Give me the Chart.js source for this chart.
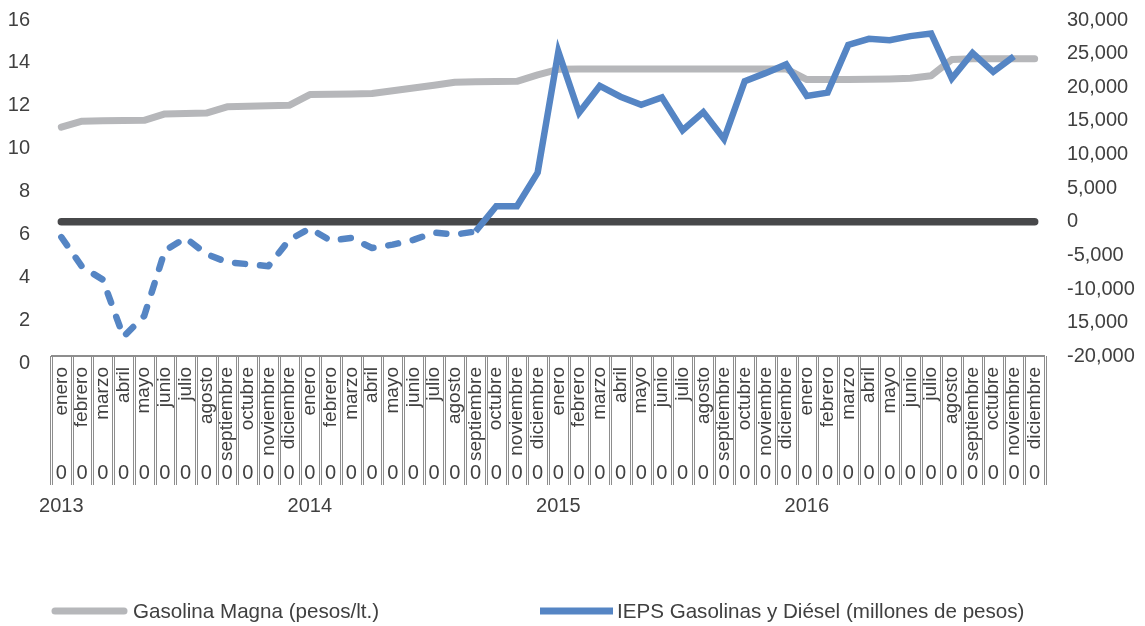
<!DOCTYPE html>
<html lang="es">
<head>
<meta charset="utf-8">
<title>Gasolina Magna e IEPS, 2013-2016</title>
<script src="https://cdn.jsdelivr.net/npm/chart.js@4/dist/chart.umd.min.js"></script>
<style>
  html, body { margin: 0; padding: 0; background: #ffffff; }
  #wrap { position: relative; width: 1145px; height: 626px; }
</style>
</head>
<body>
<div id="wrap"><canvas id="chart"></canvas></div>
<script>
// ---- data ----
const years = ['2013', '2014', '2015', '2016'];
const monthNames = ['enero', 'febrero', 'marzo', 'abril', 'mayo', 'junio', 'julio',
  'agosto', 'septiembre', 'octubre', 'noviembre', 'diciembre'];

// Gasolina Magna, pesos por litro (eje izquierdo)
const magna = [
  11.00, 11.28, 11.30, 11.31, 11.32, 11.62, 11.64, 11.66, 11.95, 11.98, 12.00, 12.02,
  12.52, 12.54, 12.55, 12.57, 12.70, 12.83, 12.96, 13.10, 13.12, 13.13, 13.14, 13.44,
  13.70, 13.71, 13.71, 13.71, 13.71, 13.71, 13.72, 13.72, 13.72, 13.72, 13.72, 13.72,
  13.22, 13.22, 13.23, 13.24, 13.25, 13.28, 13.40, 14.16, 14.19, 14.19, 14.19, 14.19
];

// IEPS gasolinas y diésel, millones de pesos (eje derecho)
const ieps = [
  -2300, -6700, -8600, -17100, -14000, -4300, -2400, -4800, -6000, -6300, -6600, -2700,
  -1000, -2800, -2400, -3900, -3400, -2700, -1600, -1900, -1450, 2300, 2300, 7300,
  25300, 16200, 20200, 18600, 17400, 18500, 13600, 16300, 12300, 20900, 22100, 23400,
  18700, 19200, 26300, 27200, 27000, 27600, 28000, 21300, 25100, 22300, 24600, null
];

// linea de referencia en cero (eje derecho)
const baseline = [
  0, 0, 0, 0, 0, 0, 0, 0, 0, 0, 0, 0,
  0, 0, 0, 0, 0, 0, 0, 0, 0, 0, 0, 0,
  0, 0, 0, 0, 0, 0, 0, 0, 0, 0, 0, 0,
  0, 0, 0, 0, 0, 0, 0, 0, 0, 0, 0, 0
];

// fila de valores de la tabla bajo el eje
const tableRow = [
  '0', '0', '0', '0', '0', '0', '0', '0', '0', '0', '0', '0',
  '0', '0', '0', '0', '0', '0', '0', '0', '0', '0', '0', '0',
  '0', '0', '0', '0', '0', '0', '0', '0', '0', '0', '0', '0',
  '0', '0', '0', '0', '0', '0', '0', '0', '0', '0', '0', '0'
];

const leftMin = 0, leftMax = 16, leftStep = 2;
const rightTickValues = [-20000, -15000, -10000, -5000, 0, 5000, 10000, 15000, 20000, 25000, 30000];
const rightTickLabels = ['-20,000', '15,000', '-10,000', '-5,000', '0', '5,000', '10,000',
  '15,000', '20,000', '25,000', '30,000'];

const seriesNames = ['IEPS Gasolinas y Diésel (millones de pesos)', 'Gasolina Magna (pesos/lt.)'];

// ---- derived labels ----
const categories = years.flatMap(() => monthNames);
const yearRow = years.flatMap(y => [y, '', '', '', '', '', '', '', '', '', '', '']);

// ---- styling ----
const TEXT = '#404040';
const FONT = "'Liberation Sans', Arial, Helvetica, sans-serif";
const BLUE = '#5585c4';
const GRAY = '#b6b7ba';
const DARK = '#47484a';
const TABLE = '#8d8d8d';

Chart.defaults.font.family = FONT;
Chart.defaults.color = TEXT;

// vertical axes: fixed width, no extra label padding above/below the plot
const fixVertical = width => s => {
  s.width = width;
  s.paddingTop = 0;
  s.paddingBottom = 0;
};

// table lines under the category axis + legend row
const tablePlugin = {
  id: 'categoryTable',
  afterDraw(chart) {
    const ctx = chart.ctx;
    const xs = chart.scales.x;
    const n = categories.length;
    const w = (xs.right - xs.left) / n;
    const top = 356, bottom = 485;
    ctx.save();
    ctx.strokeStyle = TABLE;
    ctx.lineWidth = 2;
    ctx.beginPath();
    ctx.moveTo(xs.left, top);
    ctx.lineTo(xs.right, top);
    ctx.stroke();
    ctx.lineWidth = 1;
    for (let k = 0; k <= n; k++) {
      const x = Math.round(xs.left + k * w);
      ctx.beginPath();
      ctx.moveTo(x - 0.5, top);
      ctx.lineTo(x - 0.5, bottom);
      ctx.moveTo(x + 1.5, top);
      ctx.lineTo(x + 1.5, bottom);
      ctx.stroke();
    }

    // legend
    const ly = 611;
    const items = [
      { ds: chart.data.datasets[2], x0: 55, x1: 124, tx: 133, cap: 'round' },
      { ds: chart.data.datasets[0], x0: 540, x1: 613, tx: 617, cap: 'butt' }
    ];
    ctx.font = '20.6px ' + FONT;
    ctx.textBaseline = 'middle';
    ctx.textAlign = 'left';
    items.forEach(it => {
      ctx.strokeStyle = it.ds.borderColor;
      ctx.lineWidth = 7;
      ctx.lineCap = it.cap;
      ctx.beginPath();
      ctx.moveTo(it.x0, ly);
      ctx.lineTo(it.x1, ly);
      ctx.stroke();
      ctx.fillStyle = TEXT;
      ctx.fillText(it.ds.label, it.tx, ly + 1);
    });
    ctx.restore();
  }
};

const ctx = document.getElementById('chart').getContext('2d');
new Chart(ctx, {
  type: 'line',
  data: {
    labels: categories,
    datasets: [
      {
        label: seriesNames[0],
        data: ieps,
        yAxisID: 'y2',
        borderColor: BLUE,
        backgroundColor: BLUE,
        borderWidth: 6.5,
        borderJoinStyle: 'miter',
        pointRadius: 0,
        tension: 0,
        segment: {
          borderDash: c => (c.p1.parsed.y < 0 ? [10, 15] : []),
          borderCapStyle: c => (c.p1.parsed.y < 0 ? 'round' : 'butt'),
          borderJoinStyle: c => (c.p1.parsed.y < 0 ? 'round' : 'miter')
        }
      },
      {
        label: 'cero',
        data: baseline,
        yAxisID: 'y2',
        borderColor: DARK,
        borderWidth: 7.5,
        borderCapStyle: 'round',
        pointRadius: 0,
        tension: 0
      },
      {
        label: seriesNames[1],
        data: magna,
        yAxisID: 'y',
        borderColor: GRAY,
        backgroundColor: GRAY,
        borderWidth: 7,
        borderCapStyle: 'round',
        borderJoinStyle: 'round',
        pointRadius: 0,
        tension: 0
      }
    ]
  },
  options: {
    responsive: true,
    maintainAspectRatio: false,
    animation: false,
    layout: { padding: { top: 20, left: 0, right: 0, bottom: 0 } },
    plugins: {
      legend: { display: false },
      tooltip: { enabled: false }
    },
    scales: {
      x: {
        type: 'category',
        position: 'bottom',
        offset: true,
        grid: { display: false, drawTicks: false },
        border: { display: false },
        ticks: {
          autoSkip: false,
          minRotation: 90,
          maxRotation: 90,
          padding: 4,
          color: TEXT,
          font: { size: 19 }
        },
        afterFit: s => { s.height = 98; }
      },
      xZero: {
        type: 'category',
        position: 'bottom',
        labels: tableRow,
        offset: true,
        grid: { display: false, drawTicks: false },
        border: { display: false },
        ticks: {
          autoSkip: false,
          minRotation: 0,
          maxRotation: 0,
          padding: 0,
          color: TEXT,
          font: { size: 20 }
        },
        afterFit: s => { s.height = 24; }
      },
      xYear: {
        type: 'category',
        position: 'bottom',
        labels: yearRow,
        offset: true,
        grid: { display: false, drawTicks: false },
        border: { display: false },
        ticks: {
          autoSkip: false,
          minRotation: 0,
          maxRotation: 0,
          padding: 9,
          color: TEXT,
          font: { size: 20 }
        },
        afterFit: s => { s.height = 141; }
      },
      y: {
        position: 'left',
        min: leftMin,
        max: leftMax,
        grid: { display: false, drawTicks: false },
        border: { display: false },
        ticks: { stepSize: leftStep, padding: 21, color: TEXT, font: { size: 20 } },
        afterFit: fixVertical(51)
      },
      y2: {
        position: 'right',
        min: -21000,
        max: 30000,
        grid: { display: false, drawTicks: false },
        border: { display: false },
        afterBuildTicks: s => { s.ticks = rightTickValues.map(v => ({ value: v })); },
        ticks: {
          padding: 22,
          color: TEXT,
          font: { size: 20 },
          callback: v => rightTickLabels[rightTickValues.indexOf(v)]
        },
        afterFit: fixVertical(100)
      }
    }
  },
  plugins: [tablePlugin]
});
</script>
</body>
</html>
